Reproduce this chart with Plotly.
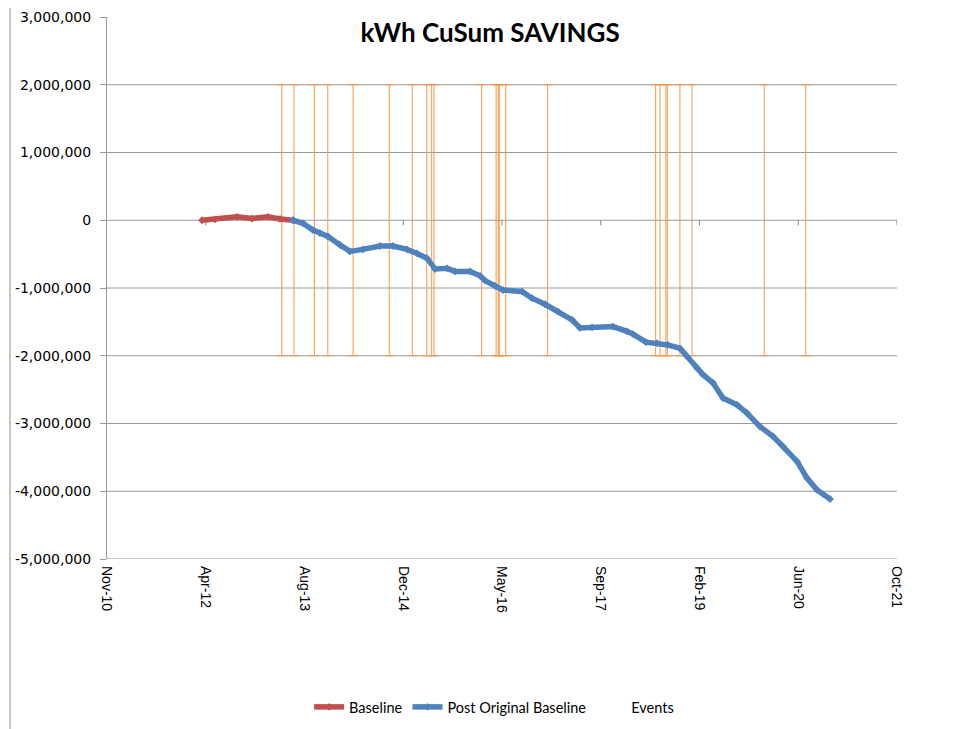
import plotly.graph_objects as go

# ---------------- data ----------------
baseline_dates = ["2012-03-13", "2012-05-18", "2012-09-06", "2012-11-21",
                  "2013-02-10", "2013-04-12", "2013-06-17"]
baseline_values = [0, 12000, 50000, 25000, 50000, 20000, 0]

post_dates = ["2013-06-17", "2013-08-06", "2013-09-26", "2013-10-31", "2013-12-11",
              "2014-02-10", "2014-04-01", "2014-06-06", "2014-08-31", "2014-11-05",
              "2015-01-15", "2015-03-07", "2015-04-26", "2015-06-06", "2015-08-06",
              "2015-09-15", "2015-11-30", "2016-01-20", "2016-02-14", "2016-04-05",
              "2016-05-15", "2016-08-19", "2016-10-09", "2016-12-14", "2017-02-18",
              "2017-04-30", "2017-06-09", "2017-08-09", "2017-11-23", "2018-02-02",
              "2018-03-04", "2018-05-09", "2018-07-04", "2018-08-28", "2018-10-28",
              "2018-12-03", "2019-01-22", "2019-02-22", "2019-04-13", "2019-06-03",
              "2019-08-13", "2019-10-02", "2019-12-07", "2020-02-11", "2020-04-02",
              "2020-06-12", "2020-08-01", "2020-09-21", "2020-11-26"]
post_values = [0, -45000, -145000, -190000, -240000,
               -365000, -460000, -430000, -380000, -380000,
               -430000, -490000, -560000, -720000, -710000,
               -755000, -755000, -820000, -890000, -970000,
               -1030000, -1050000, -1150000, -1240000, -1350000,
               -1470000, -1590000, -1580000, -1570000, -1640000,
               -1680000, -1800000, -1815000, -1840000, -1890000,
               -2010000, -2180000, -2280000, -2400000, -2625000,
               -2725000, -2845000, -3045000, -3190000, -3340000,
               -3560000, -3805000, -3980000, -4115000]

event_dates = ["2013-04-21", "2013-06-22", "2013-10-03", "2013-12-10", "2014-04-17",
               "2014-10-17", "2015-02-11", "2015-04-25", "2015-05-20", "2015-06-01",
               "2016-01-28", "2016-04-10", "2016-04-21", "2016-04-26", "2016-05-29",
               "2016-12-27", "2018-06-27", "2018-07-19", "2018-08-18", "2018-08-25",
               "2018-10-28", "2018-12-28", "2019-12-29", "2020-07-26"]
event_low = -2000000
event_high = 2000000

x_tick_dates = ["2010-11-18", "2012-04-01", "2013-08-14", "2014-12-27", "2016-05-10",
                "2017-09-22", "2019-02-04", "2020-06-18", "2021-10-31"]
x_tick_labels = ["Nov-10", "Apr-12", "Aug-13", "Dec-14", "May-16",
                 "Sep-17", "Feb-19", "Jun-20", "Oct-21"]

y_tick_values = [3000000, 2000000, 1000000, 0, -1000000, -2000000,
                 -3000000, -4000000, -5000000]
y_tick_labels = ["3,000,000", "2,000,000", "1,000,000", "0", "-1,000,000",
                 "-2,000,000", "-3,000,000", "-4,000,000", "-5,000,000"]

# ---------------- figure ----------------
RED = "#C0504D"
BLUE = "#4F81BD"
ORANGE = "#F79646"
GRID = "#999999"

ev_x, ev_y = [], []
for d in event_dates:
    ev_x += [d, d, None]
    ev_y += [event_low, event_high, None]

fig = go.Figure()

fig.add_trace(go.Scatter(
    x=ev_x, y=ev_y, mode="lines+markers", name="Events", showlegend=False,
    line=dict(color=ORANGE, width=1),
    marker=dict(symbol="line-ew", size=7, line=dict(color=ORANGE, width=1)),
    hoverinfo="skip"))

fig.add_trace(go.Scatter(
    x=baseline_dates, y=baseline_values, mode="lines+markers", name="Baseline",
    line=dict(color=RED, width=5.5),
    marker=dict(symbol="diamond", size=6, color=RED)))

fig.add_trace(go.Scatter(
    x=post_dates, y=post_values, mode="lines+markers", name="Post Original Baseline",
    line=dict(color=BLUE, width=5.5),
    marker=dict(symbol="diamond", size=6, color=BLUE)))

# legend-only entry for Events (shown without a symbol, as in the reference)
fig.add_trace(go.Scatter(
    x=[None], y=[None], mode="lines", name="Events",
    line=dict(color="rgba(0,0,0,0)", width=1)))

shapes = []
# horizontal gridlines (no line at the top value)
for v in y_tick_values:
    if v < max(y_tick_values):
        shapes.append(dict(type="line", xref="paper", yref="y", x0=0, x1=1,
                           y0=v, y1=v, line=dict(color=GRID, width=1), layer="below"))
# small tick marks of the date axis along the zero line
for d in x_tick_dates[1:]:
    shapes.append(dict(type="line", xref="x", yref="y", x0=d, x1=d,
                       y0=0, y1=-75000, line=dict(color="#7f7f7f", width=1), layer="below"))
# left border of the chart area
shapes.append(dict(type="line", xref="paper", yref="paper",
                   x0=-0.1228, x1=-0.1228, y0=1.02, y1=-0.3137,
                   line=dict(color="#BDB5A4", width=1.5)))

# page body adds an 8px margin, so the figure is 8px smaller and offsets are reduced
fig.update_layout(
    width=963, height=721,
    margin=dict(l=99, r=74, t=9, b=170, autoexpand=False),
    paper_bgcolor="white", plot_bgcolor="white",
    title=dict(text="<b>kWh CuSum SAVINGS</b>", x=0.485, xref="paper", xanchor="center",
               y=1 - 25 / 721, yref="container", yanchor="middle", automargin=False,
               font=dict(family="Lato", size=26, color="black")),
    xaxis=dict(type="date", range=[x_tick_dates[0], x_tick_dates[-1]], automargin=False,
               tickmode="array", tickvals=x_tick_dates, ticktext=x_tick_labels,
               tickangle=90, showgrid=False, zeroline=False, showline=False,
               ticks="", ticklabelstandoff=6,
               tickfont=dict(family="Liberation Sans", size=14, color="black")),
    yaxis=dict(range=[-5000000, 3000000], tickmode="array", automargin=False,
               tickvals=y_tick_values, ticktext=y_tick_labels,
               showgrid=False, zeroline=False, showline=True, linecolor=GRID,
               linewidth=1, ticks="outside", ticklen=6, tickcolor=GRID,
               ticklabelstandoff=6,
               tickfont=dict(family="DejaVu Sans", size=14, color="black")),
    legend=dict(orientation="h", x=0.49, xanchor="center", y=-0.273, yanchor="middle",
                font=dict(family="Lato", size=14.5, color="black"),
                bgcolor="rgba(0,0,0,0)", itemwidth=30),
    shapes=shapes,
    showlegend=True,
)

fig.write_html("out.html")
